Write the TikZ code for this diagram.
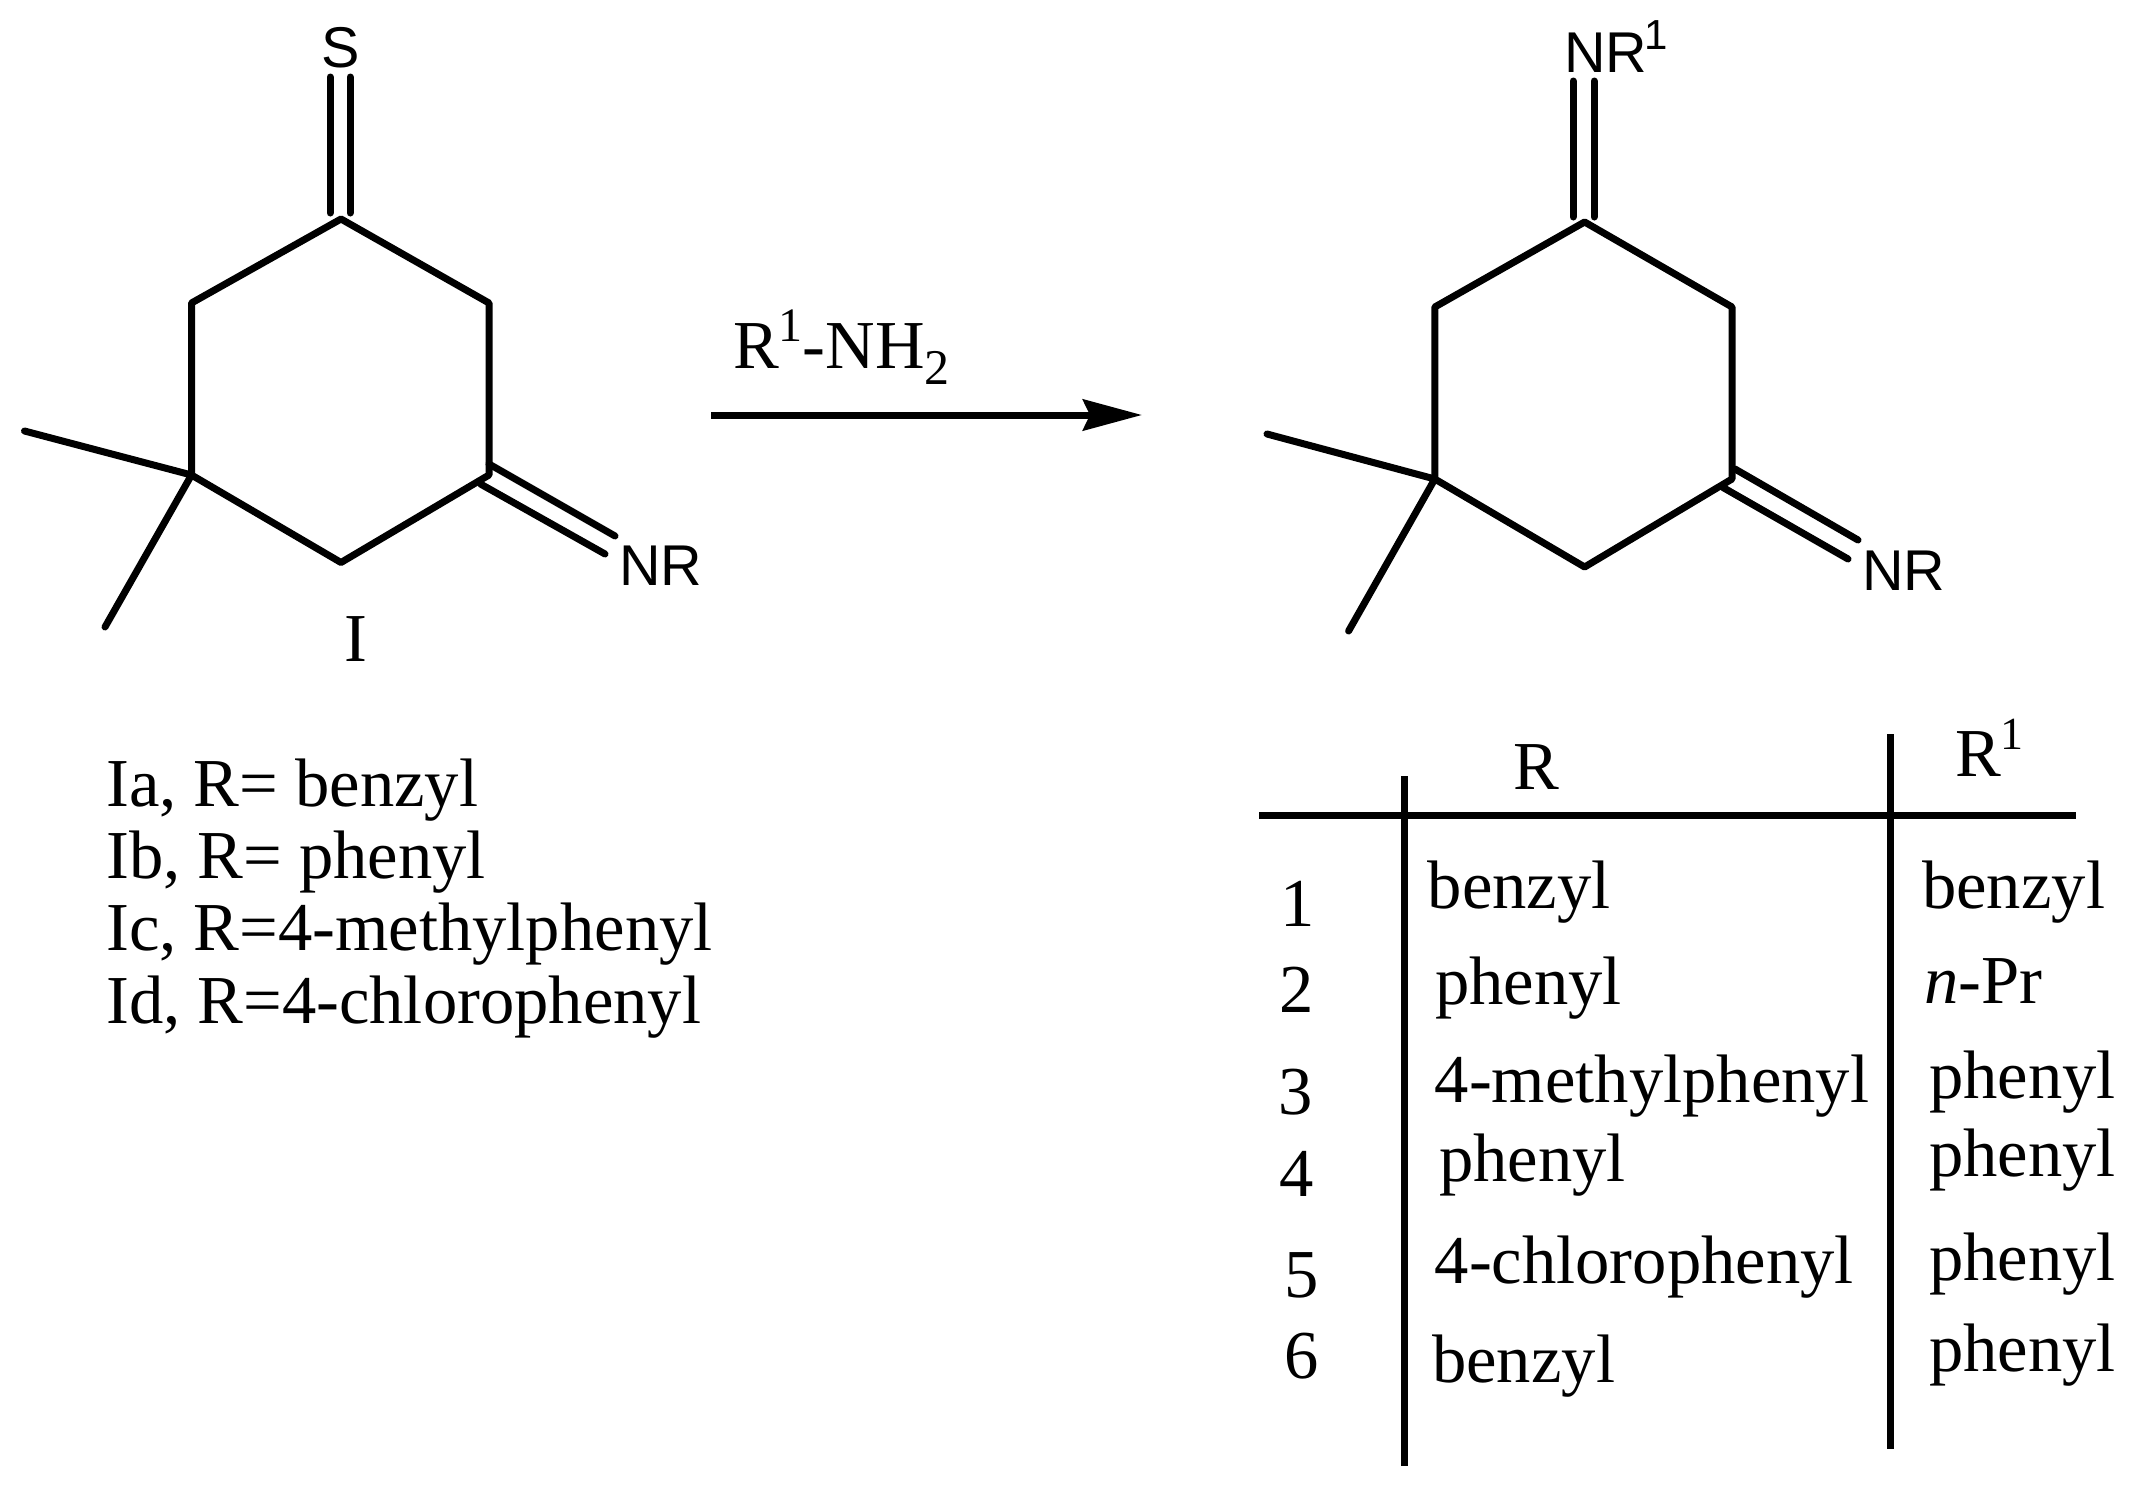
\documentclass[tikz,border=0pt]{standalone}
\usepackage{fontspec}
\setmainfont{Liberation Serif}
\newfontfamily\atomfamily{Liberation Sans}
\usetikzlibrary{arrows.meta}
\newcommand{\textsize}{\fontsize{68.6}{69}\selectfont}
\newcommand{\atomsize}{\atomfamily\fontsize{57.5}{58}\selectfont}
\newcommand{\upnum}[3]{\raisebox{#1pt}{\fontsize{#2}{#2}\selectfont #3}}
\tikzset{
  bond/.style={line width=7pt,line cap=round,line join=round},
  rule/.style={line width=7pt},
  txt/.style={inner sep=0pt,anchor=base west,font=\textsize},
  num/.style={inner sep=0pt,anchor=base,font=\textsize},
  atom/.style={inner sep=0pt,anchor=base west,font=\atomsize}
}
\begin{document}
\begin{tikzpicture}[x=1pt,y=-1pt]
\useasboundingbox (0,0) rectangle (2132,1488);

\coordinate (atop) at (341,219);
\coordinate (aul) at (191.5,303);
\coordinate (all) at (191.5,475);
\coordinate (abot) at (341,562.5);
\coordinate (alr) at (489,475);
\coordinate (aur) at (489,303);
\coordinate (ame1) at (24.5,431);
\coordinate (ame2) at (105,627);
\coordinate (as1) at (330,77);
\coordinate (as1b) at (330,213);
\coordinate (as2) at (350,77);
\coordinate (as2b) at (350,213);
\coordinate (an1) at (489,464);
\coordinate (an1b) at (615,536);
\coordinate (an2) at (480.5,484);
\coordinate (an2b) at (605,554);
\draw[bond] (atop) -- (aul) -- (all) -- (abot) -- (alr) -- (aur) -- cycle;
\draw[bond] (ame1) -- (all) -- (ame2);
\draw[bond] (as1) -- (as1b);
\draw[bond] (as2) -- (as2b);
\draw[bond] (an1) -- (an1b);
\draw[bond] (an2) -- (an2b);
\node[atom,anchor=base] (asulfur) at (341,67) {S};
\node[atom] (anr) at (619,585) {NR};
\node[num] (alabel) at (356,661) {I};

\coordinate (btop) at (1584.6,222);
\coordinate (bul) at (1434.8,307);
\coordinate (bll) at (1434.8,479);
\coordinate (bbot) at (1584.6,567);
\coordinate (blr) at (1732,479);
\coordinate (bur) at (1732,307);
\coordinate (bme1) at (1267,434);
\coordinate (bme2) at (1348.6,631);
\coordinate (bs1) at (1573,81);
\coordinate (bs1b) at (1573,217);
\coordinate (bs2) at (1594,81);
\coordinate (bs2b) at (1594,217);
\coordinate (bn1) at (1735,469);
\coordinate (bn1b) at (1858,540);
\coordinate (bn2) at (1723,487.5);
\coordinate (bn2b) at (1848,559);
\draw[bond] (btop) -- (bul) -- (bll) -- (bbot) -- (blr) -- (bur) -- cycle;
\draw[bond] (bme1) -- (bll) -- (bme2);
\draw[bond] (bs1) -- (bs1b);
\draw[bond] (bs2) -- (bs2b);
\draw[bond] (bn1) -- (bn1b);
\draw[bond] (bn2) -- (bn2b);
\node[atom] (bnrone) at (1564,72) {NR\kern-3pt\upnum{23}{42}{1}};
\node[atom] (bnr) at (1862,590) {NR};

\coordinate (arrowa) at (711,415);
\coordinate (arrowb) at (1142,415);
\draw[line width=7pt,-{Stealth[length=59pt,width=31pt,inset=7pt]}] (arrowa) -- (arrowb);
\node[txt] (reagent) at (733,368) {R\upnum{27}{48}{1}-NH\upnum{-16}{50}{2}};

\node[txt] (lia) at (106,806) {Ia, R= benzyl};
\node[txt] (lib) at (106,878) {Ib, R= phenyl};
\node[txt] (lic) at (106,950) {Ic, R=4-methylphenyl};
\node[txt] (lid) at (106,1023) {Id, R=4-chlorophenyl};

\coordinate (hl) at (1259,815.5);
\coordinate (hr) at (2076,815.5);
\coordinate (vat) at (1404,776);
\coordinate (vab) at (1404,1466);
\coordinate (vbt) at (1890,734);
\coordinate (vbb) at (1890,1449);
\draw[rule] (hl) -- (hr);
\draw[rule] (vat) -- (vab);
\draw[rule] (vbt) -- (vbb);
\node[txt] (headr) at (1513,789) {R};
\node[txt] (headrone) at (1955,776) {R\upnum{27}{46}{1}};

\node[num] (n1) at (1298,926) {1};
\node[num] (n2) at (1297,1012.5) {2};
\node[num] (n3) at (1296,1114.5) {3};
\node[num] (n4) at (1297,1196.5) {4};
\node[num] (n5) at (1302,1297) {5};
\node[num] (n6) at (1302,1378.5) {6};

\node[txt] (ra1) at (1427.5,908) {benzyl};
\node[txt] (ra2) at (1435,1004) {phenyl};
\node[txt] (ra3) at (1434.5,1102) {4-methylphenyl};
\node[txt] (ra4) at (1439,1181) {phenyl};
\node[txt] (ra5) at (1434.5,1283) {4-chlorophenyl};
\node[txt] (ra6) at (1432,1382.5) {benzyl};

\node[txt] (rb1) at (1922,908) {benzyl};
\node[txt] (rb2) at (1924,1003) {\textit{n}-Pr};
\node[txt] (rb3) at (1929,1098) {phenyl};
\node[txt] (rb4) at (1929,1176.5) {phenyl};
\node[txt] (rb5) at (1929,1280.5) {phenyl};
\node[txt] (rb6) at (1929,1371) {phenyl};
\end{tikzpicture}
\end{document}
